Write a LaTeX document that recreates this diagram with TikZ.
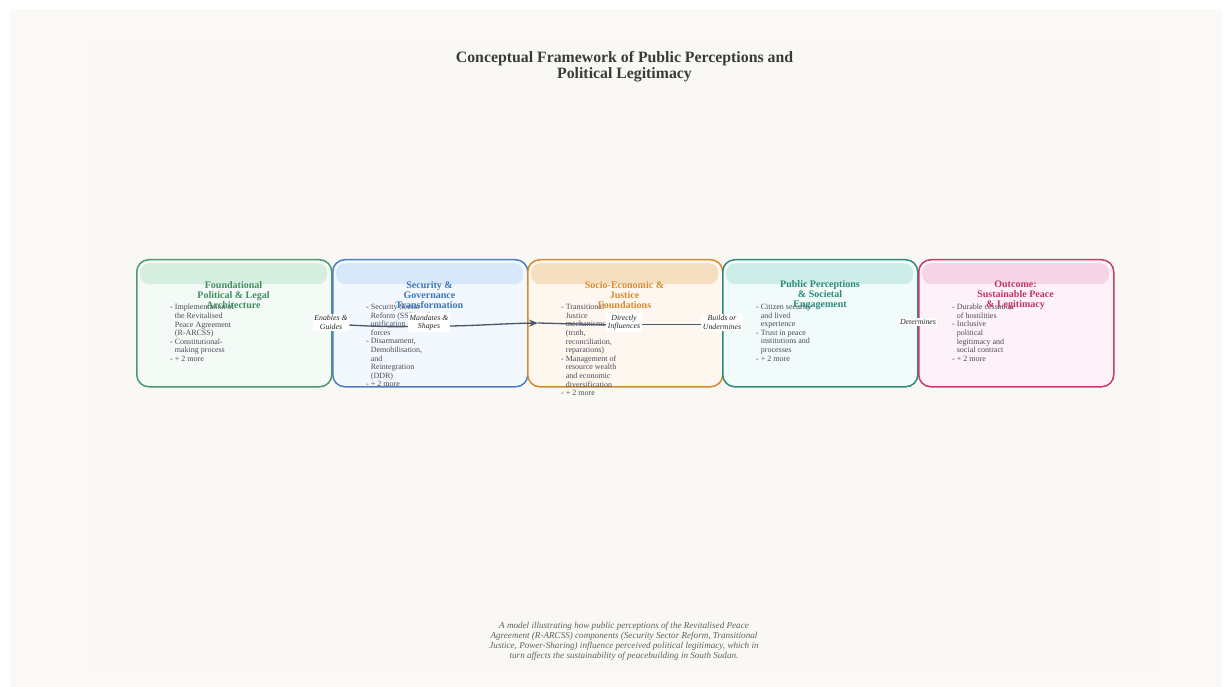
\documentclass[tikz,border=0pt]{standalone}
\usepackage{fontspec}
\setmainfont{Liberation Serif}
\usetikzlibrary{arrows.meta}
\definecolor{bgout}{HTML}{FAF9F5}
\definecolor{bgin}{HTML}{F9F8F4}
\definecolor{titlec}{HTML}{3A3A3A}
\definecolor{itemc}{HTML}{4A4A5A}
\definecolor{edgec}{HTML}{4A5568}
\definecolor{capc}{HTML}{606060}
\definecolor{gB}{HTML}{4E9A70}\definecolor{gH}{HTML}{D5EEDF}\definecolor{gF}{HTML}{F4FAF6}\definecolor{gT}{HTML}{3E8F5E}
\definecolor{bB}{HTML}{4A7FC0}\definecolor{bH}{HTML}{D6E8FA}\definecolor{bF}{HTML}{F3F8FE}\definecolor{bT}{HTML}{3A76BC}
\definecolor{oB}{HTML}{D58A2D}\definecolor{oH}{HTML}{F6DEC0}\definecolor{oF}{HTML}{FEF7EF}\definecolor{oT}{HTML}{D9892C}
\definecolor{tB}{HTML}{2E8A7A}\definecolor{tH}{HTML}{CDEDE8}\definecolor{tF}{HTML}{F1FBF9}\definecolor{tT}{HTML}{2A8A7D}
\definecolor{pB}{HTML}{C83A72}\definecolor{pH}{HTML}{F7D4E5}\definecolor{pF}{HTML}{FDF2F7}\definecolor{pT}{HTML}{C4306C}
\pgfdeclarelayer{front}
\pgfsetlayers{main,front}
\tikzset{
  stagebox/.style={draw, line width=1.5pt, rounded corners=12pt, minimum width=195pt, minimum height=127pt, inner sep=0pt, anchor=north west},
  headband/.style={rounded corners=9pt, minimum width=187pt, minimum height=21pt, inner sep=0pt, anchor=north west},
  stagetitle/.style={font=\fontsize{10}{10}\selectfont\bfseries, align=center, inner sep=0pt},
  itemtext/.style={font=\fontsize{8}{8.6}\selectfont, text=itemc, align=left, inner sep=0pt, anchor=north west},
  edgelabel/.style={font=\fontsize{7.8}{8.6}\selectfont\itshape, fill=white, align=center, inner sep=1.5pt, text=black!85},
  flow/.style={draw=edgec, line width=1.3pt},
}
\newcommand{\ind}{\phantom{- }}
\begin{document}
\begin{tikzpicture}[x=1pt,y=-1pt]
\useasboundingbox (0,0) rectangle (1232,687);
\fill[white] (0,0) rectangle (1232,687);
\fill[bgout] (10,9) rectangle (1222,687);
\fill[bgin] (91,45) rectangle (1157,665);

\node[font=\fontsize{15.8}{16}\selectfont\bfseries, text=titlec, align=center] (title) at (624.5,66.5)
  {Conceptual Framework of Public Perceptions and\\Political Legitimacy};

% boxes
\node[stagebox, draw=gB, fill=gF] (b1) at (136,259) {};
\node[stagebox, draw=bB, fill=bF] (b2) at (332,259) {};
\node[stagebox, draw=oB, fill=oF] (b3) at (527,259) {};
\node[stagebox, draw=tB, fill=tF] (b4) at (722,259) {};
\node[stagebox, draw=pB, fill=pF] (b5) at (918,259) {};

\node[headband, fill=gH] (h1) at (140,263) {};
\node[headband, fill=bH] (h2) at (336,263) {};
\node[headband, fill=oH] (h3) at (531,263) {};
\node[headband, fill=tH] (h4) at (726,263) {};
\node[headband, fill=pH] (h5) at (922,263) {};

% items (drawn before titles)
\node[itemtext] (i1) at (170,304) {- Implementation of\\\ind the Revitalised\\\ind Peace Agreement\\\ind (R-ARCSS)\\- Constitutional-\\\ind making process\\- + 2 more};
\node[itemtext] (i2) at (366,304) {- Security Sector\\\ind Reform (SSR) and\\\ind unification of\\\ind forces\\- Disarmament,\\\ind Demobilisation,\\\ind and\\\ind Reintegration\\\ind (DDR)\\- + 2 more};
\node[itemtext] (i3) at (561,304) {- Transitional\\\ind Justice\\\ind mechanisms\\\ind (truth,\\\ind reconciliation,\\\ind reparations)\\- Management of\\\ind resource wealth\\\ind and economic\\\ind diversification\\- + 2 more};
\node[itemtext] (i4) at (756,304) {- Citizen security\\\ind and lived\\\ind experience\\- Trust in peace\\\ind institutions and\\\ind processes\\- + 2 more};
\node[itemtext] (i5) at (952,304) {- Durable cessation\\\ind of hostilities\\- Inclusive\\\ind political\\\ind legitimacy and\\\ind social contract\\- + 2 more};

% titles
\node[stagetitle, text=gT] (t1) at (233.5,295.5) {Foundational\\Political \& Legal\\Architecture};
\node[stagetitle, text=bT] (t2) at (429.5,295.5) {Security \&\\Governance\\Transformation};
\node[stagetitle, text=oT] (t3) at (624.5,295.5) {Socio-Economic \&\\Justice\\Foundations};
\node[stagetitle, text=tT] (t4) at (820,295.5) {Public Perceptions\\\& Societal\\Engagement};
\node[stagetitle, text=pT] (t5) at (1015.5,295.5) {Outcome:\\Sustainable Peace\\\& Legitimacy};

% edge labels (front layer)
\begin{pgfonlayer}{front}
\node[edgelabel] (l1) at (331,322.5) {Enables \&\\Guides};
\node[edgelabel] (l2) at (429,322.5) {Mandates \&\\Shapes};
\node[edgelabel] (l3) at (624,322.5) {Directly\\Influences};
\node[edgelabel] (l4) at (722,322.5) {Builds or\\Undermines};
\node[edgelabel] (l5) at (918,322) {Determines};
\end{pgfonlayer}

\coordinate (a3) at (538,323);
\draw[flow] (l1.east |- 0,325) .. controls (375,326.5) and (395,327) .. (l2.west |- 0,326.5);
\draw[flow, -{Stealth[length=9pt,width=7pt]}] (l2.east |- 0,326) .. controls (480,325.5) and (505,323.5) .. (a3);
\draw[flow] (a3) -- (l3.west |- 0,324.8);
\draw[flow] (l3.east |- 0,324.5) -- (l4.west |- 0,324.5);

\node[font=\fontsize{9.1}{10}\selectfont\itshape, text=capc, align=center] (cap) at (624,641)
  {A model illustrating how public perceptions of the Revitalised Peace\\Agreement (R-ARCSS) components (Security Sector Reform, Transitional\\Justice, Power-Sharing) influence perceived political legitimacy, which in\\turn affects the sustainability of peacebuilding in South Sudan.};
\end{tikzpicture}
\end{document}
